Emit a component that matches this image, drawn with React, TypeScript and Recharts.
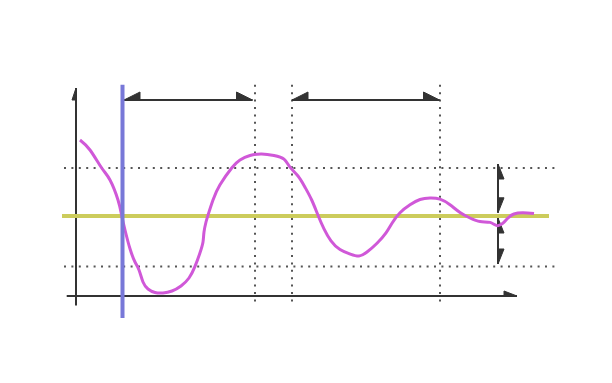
import { LineChart, Line, XAxis, YAxis, ReferenceLine } from "recharts"

// response curve, time vs output (final value = 1)
const T = [0.4, 1.4, 2.57, 3.4, 4.2, 4.57, 4.9, 5.4, 5.9, 6.3, 6.7, 7.2, 7.9, 8.7, 9.6, 10.5, 11.3, 11.9, 12.4, 12.7, 12.8, 13.0, 13.2, 13.7, 14.4, 15.57, 16.4, 17.4, 18.57, 19.8, 20.8, 21.4, 22.2, 22.9, 23.57, 24.2, 24.8, 25.5, 26.4, 27.4, 28.3, 29.1, 30.1, 31.0, 31.6, 32.4, 33.4, 34.4, 35.4, 36.4, 37.4, 38.4, 39.4, 40.4, 41.4, 42.1, 42.7, 43.2, 43.8, 44.7, 45.8]
const V = [1.95, 1.825, 1.6, 1.45, 1.2, 1.006, 0.825, 0.59, 0.425, 0.325, 0.175, 0.0875, 0.044, 0.0375, 0.0625, 0.125, 0.225, 0.37, 0.54, 0.675, 0.8, 0.925, 1.01, 1.2, 1.39, 1.6, 1.7, 1.756, 1.775, 1.756, 1.71, 1.61, 1.5, 1.36, 1.2, 1.01, 0.84, 0.69, 0.58, 0.525, 0.5, 0.55, 0.66, 0.79, 0.91, 1.04, 1.14, 1.206, 1.225, 1.21, 1.14, 1.044, 0.975, 0.93, 0.92, 0.88, 0.91, 0.975, 1.025, 1.04, 1.03]

const FINAL = 1
const BAND = [1.6, 0.37]
const T_START = 4.65
const T_MARKS = [17.9, 21.6, 36.4]
const TOP_ARROWS = [[4.8, 17.65], [21.6, 36.35]]
const ARROW_Y = 2.45
const SIDE_T = 42.2
const SIDE_ARROWS = [[1.65, 1.04], [0.975, 0.4]]

const data = T.map((t, i) => ({ t, v: V[i] }))

const INK = "#333333"
const DOTS = "#555555"

function Arrow(p: any) {
  const { x1, y1, x2, y2, len, wid, side, start = true, end = true, stroke } = p
  const L = Math.hypot(x2 - x1, y2 - y1) || 1
  const dx = (x2 - x1) / L
  const dy = (y2 - y1) / L
  const nx = dy * side
  const ny = -dx * side
  const head = (tx: number, ty: number, s: number) => {
    const bx = tx + dx * len * s
    const by = ty + dy * len * s
    return `${tx},${ty} ${bx},${by} ${bx + nx * wid},${by + ny * wid}`
  }
  return (
    <g>
      <line x1={x1} y1={y1} x2={x2} y2={y2} stroke={stroke} strokeWidth={2} />
      {start && <polygon points={head(x1, y1, 1)} fill={stroke} stroke={stroke} strokeWidth={1} />}
      {end && <polygon points={head(x2, y2, -1)} fill={stroke} stroke={stroke} strokeWidth={1} />}
    </g>
  )
}

export default function App() {
  return (
    <div style={{ position: "absolute", left: 0, top: 0, background: "#fff" }}>
      <LineChart width={612} height={383} data={data} margin={{ top: 80, right: 52, bottom: 63, left: 60 }}>
        <XAxis dataKey="t" type="number" domain={[-1.6, 48.4]} hide allowDataOverflow />
        <YAxis type="number" domain={[-0.3, 2.7]} hide allowDataOverflow />

        {BAND.map((v) => (
          <ReferenceLine key={v} segment={[{ x: -1.2, y: v }, { x: 47.9, y: v }]} stroke={DOTS} strokeWidth={2} strokeDasharray="2 5.4" />
        ))}
        {T_MARKS.map((t) => (
          <ReferenceLine key={t} segment={[{ x: t, y: 2.64 }, { x: t, y: -0.09 }]} stroke={DOTS} strokeWidth={2} strokeDasharray="2 5.4" />
        ))}

        {/* axes */}
        <ReferenceLine segment={[{ x: 0, y: -0.12 }, { x: 0, y: 2.6 }]} stroke={INK}
          shape={(p: any) => <Arrow {...p} stroke={INK} len={12} wid={4} side={1} start={false} />} />
        <ReferenceLine segment={[{ x: -0.93, y: 0 }, { x: 44.1, y: 0 }]} stroke={INK}
          shape={(p: any) => <Arrow {...p} stroke={INK} len={13} wid={5} side={1} start={false} />} />

        {TOP_ARROWS.map(([a, b]) => (
          <ReferenceLine key={a} segment={[{ x: a, y: ARROW_Y }, { x: b, y: ARROW_Y }]} stroke={INK}
            shape={(p: any) => <Arrow {...p} stroke={INK} len={16} wid={8} side={1} />} />
        ))}
        {SIDE_ARROWS.map(([a, b]) => (
          <ReferenceLine key={a} segment={[{ x: SIDE_T, y: a }, { x: SIDE_T, y: b }]} stroke={INK}
            shape={(p: any) => <Arrow {...p} stroke={INK} len={15} wid={6} side={1} />} />
        ))}

        <ReferenceLine segment={[{ x: -1.4, y: FINAL }, { x: 47.3, y: FINAL }]} stroke="#cccc5c" strokeWidth={4} />

        <Line type="natural" dataKey="v" stroke="#d058d8" strokeWidth={3} dot={false} isAnimationActive={false} />

        <ReferenceLine segment={[{ x: T_START, y: 2.64 }, { x: T_START, y: -0.275 }]} stroke="#7878d8" strokeWidth={4} />
      </LineChart>
    </div>
  )
}
